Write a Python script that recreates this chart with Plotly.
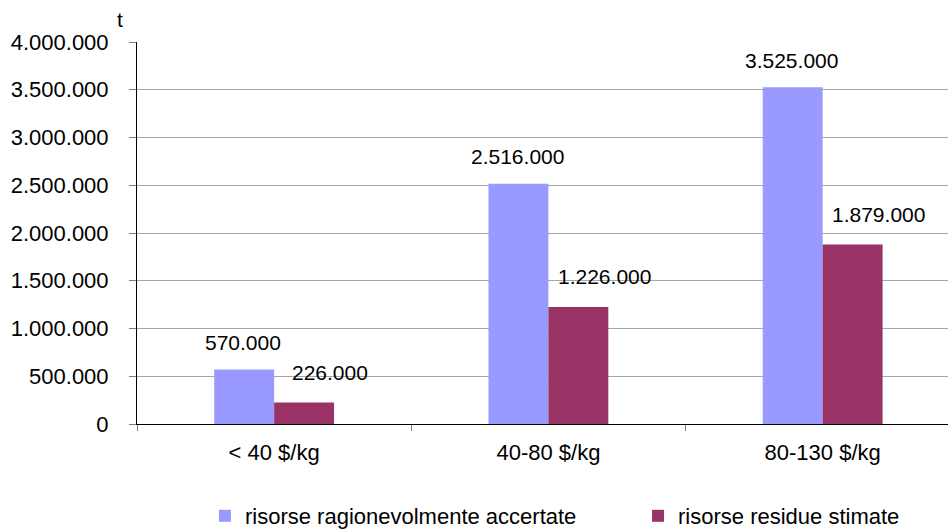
import plotly.graph_objects as go

# Uranium resources by extraction cost class (tonnes)
categories = ["< 40 $/kg", "40-80 $/kg", "80-130 $/kg"]
accertate = [570000, 2516000, 3525000]
stimate = [226000, 1226000, 1879000]
series_names = ["risorse ragionevolmente accertate", "risorse residue stimate"]
y_ticks = [0, 500000, 1000000, 1500000, 2000000, 2500000, 3000000, 3500000, 4000000]

BLUE = "#9999FF"
PURPLE = "#993366"
FONT = "Liberation Sans, Arial, sans-serif"


def fmt(v):
    return f"{v:,}".replace(",", ".")


fig = go.Figure()
fig.add_trace(go.Bar(x=categories, y=accertate, name=series_names[0], showlegend=True,
                     marker=dict(color=BLUE, line=dict(width=0)), legend="legend"))
fig.add_trace(go.Bar(x=categories, y=stimate, name=series_names[1], showlegend=True,
                     marker=dict(color=PURPLE, line=dict(width=0)), legend="legend2"))

label_font = dict(size=21, color="black", family=FONT)
annotations = []
for cat, v in zip(categories, accertate):
    annotations.append(dict(x=cat, y=v, xref="x", yref="y", text=fmt(v),
                            showarrow=False, xshift=-31, yshift=27,
                            xanchor="center", yanchor="middle", font=label_font))
for cat, v in zip(categories, stimate):
    annotations.append(dict(x=cat, y=v, xref="x", yref="y", text=fmt(v),
                            showarrow=False, xshift=56, yshift=30,
                            xanchor="center", yanchor="middle", font=label_font))
# unit label above the value axis
annotations.append(dict(x=0, y=1, xref="paper", yref="paper", text="t",
                        showarrow=False, xshift=-17, yshift=23,
                        xanchor="center", yanchor="middle", font=label_font))

legend_common = dict(orientation="h", yref="container", y=0.0246, yanchor="middle",
                     xanchor="left", font=dict(size=22, color="black", family=FONT),
                     itemwidth=30, bgcolor="rgba(0,0,0,0)", borderwidth=0)

fig.update_layout(
    width=948, height=529,
    margin=dict(l=137, r=0, t=41.5, b=104.5),
    paper_bgcolor="white", plot_bgcolor="white",
    showlegend=True,
    barmode="group", bargap=0.563, bargroupgap=0,
    font=dict(family=FONT, size=22, color="black"),
    annotations=annotations,
    legend=dict(x=0.0838, **legend_common),
    legend2=dict(x=0.6178, **legend_common),
)
fig.update_xaxes(
    range=[-0.5, 2.457], showline=True, linecolor="black", linewidth=1,
    ticks="outside", tickson="boundaries", ticklen=6, tickcolor="#808080",
    showgrid=False, tickfont=dict(size=22, color="black", family=FONT),
    ticklabelstandoff=9,
)
fig.update_yaxes(
    range=[0, 4000000], tickvals=y_ticks, ticktext=[fmt(v) for v in y_ticks],
    showline=True, linecolor="black", linewidth=1,
    ticks="outside", ticklen=7, tickcolor="#808080",
    showgrid=True, gridcolor="#A6A6A6", gridwidth=1, zeroline=False,
    tickfont=dict(size=22, color="black", family=FONT),
    ticklabelstandoff=16,
)

fig.write_html("out.html")
